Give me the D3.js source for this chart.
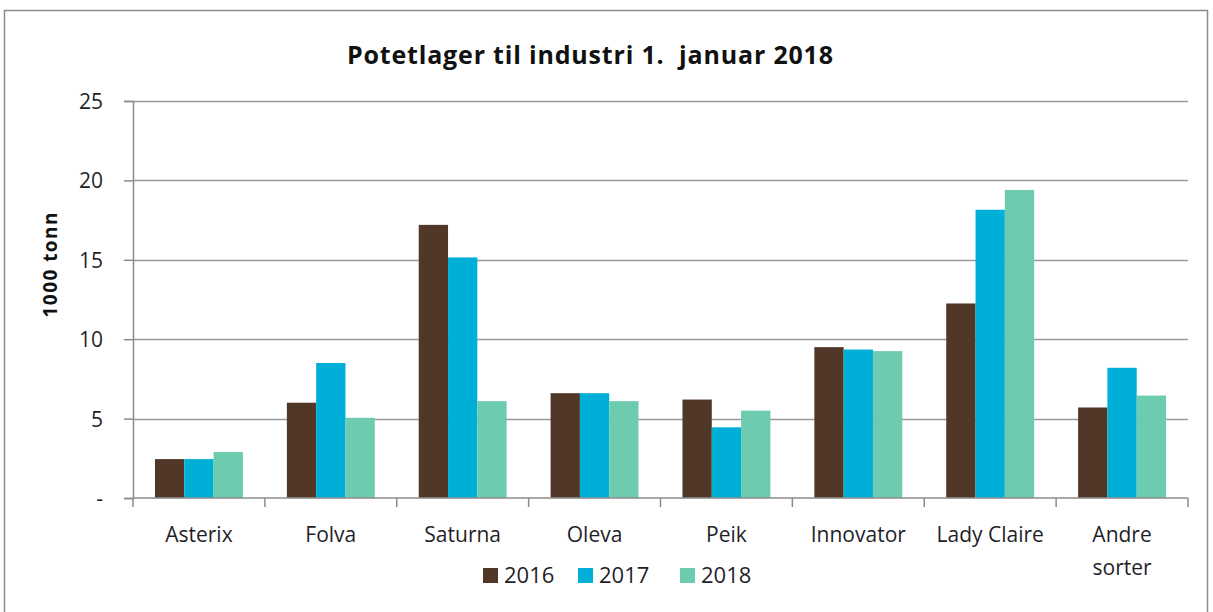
<!DOCTYPE html>
<html>
<head>
<meta charset="utf-8">
<script src="https://cdn.jsdelivr.net/npm/d3@7/dist/d3.min.js"></script>
<style>
  html, body { margin: 0; padding: 0; background: #ffffff; }
  svg { display: block; }
  text { font-family: "Open Sans", Lato, "DejaVu Sans", sans-serif; }
</style>
</head>
<body>
<div id="chart"></div>
<script>
// Potato stock for industry, 1 January (1000 tonnes)
const categories = ['Asterix', 'Folva', 'Saturna', 'Oleva', 'Peik', 'Innovator', 'Lady Claire', 'Andre sorter'];
const years = ['2016', '2017', '2018'];
const values2016 = [2.45, 6.0, 17.2, 6.6, 6.2, 9.5, 12.25, 5.7];
const values2017 = [2.45, 8.5, 15.15, 6.6, 4.45, 9.35, 18.15, 8.2];
const values2018 = [2.9, 5.05, 6.1, 6.1, 5.5, 9.25, 19.4, 6.45];
const yTicks = [0, 5, 10, 15, 20, 25];
const colors = ['#513727', '#00afd7', '#6dcbb0'];

const W = 1213, H = 612;
const margin = { left: 133, right: 1213 - 1188, top: 101, bottom: 612 - 498 };
const textColor = '#1f1f2a';
const axisColor = '#8c8c8c';

const svg = d3.select('#chart').append('svg')
  .attr('width', W)
  .attr('height', H);

// outer frame
svg.append('rect')
  .attr('x', 4.5).attr('y', 10.5)
  .attr('width', 1203).attr('height', 620)
  .attr('fill', '#fff')
  .attr('stroke', axisColor)
  .attr('stroke-width', 1.5);

const x = d3.scaleBand()
  .domain(categories)
  .range([margin.left, W - margin.right]);

const series = d3.scaleBand()
  .domain(years)
  .range([0, x.bandwidth() * 3 / 4.5]);

const y = d3.scaleLinear()
  .domain([0, 25])
  .range([H - margin.bottom, margin.top]);

// gridlines
svg.append('g')
  .selectAll('line')
  .data(yTicks.filter(d => d > 0))
  .join('line')
  .attr('x1', margin.left).attr('x2', W - margin.right)
  .attr('y1', d => Math.round(y(d)) + 0.5)
  .attr('y2', d => Math.round(y(d)) + 0.5)
  .attr('stroke', '#9a9a9a')
  .attr('stroke-width', 1.5);

// bars
const data = [values2016, values2017, values2018];
const groupOffset = (x.bandwidth() - series.range()[1]) / 2;
years.forEach((yr, i) => {
  svg.append('g')
    .selectAll('rect')
    .data(categories)
    .join('rect')
    .attr('x', (c) => x(c) + groupOffset + series(yr))
    .attr('width', series.bandwidth())
    .attr('y', (c, j) => y(data[i][j]))
    .attr('height', (c, j) => y(0) - y(data[i][j]))
    .attr('fill', colors[i]);
});

// y axis
const yAxis = d3.axisLeft(y)
  .tickValues(yTicks)
  .tickSize(9)
  .tickPadding(21)
  .tickFormat(d => d === 0 ? '-' : d);

const gy = svg.append('g')
  .attr('transform', `translate(${margin.left},0)`)
  .call(yAxis);
gy.select('.domain').attr('stroke', axisColor).attr('stroke-width', 1.5);
gy.selectAll('.tick line').attr('stroke', axisColor).attr('stroke-width', 1.5);
gy.selectAll('.tick text')
  .attr('fill', textColor)
  .attr('dy', '0.36em')
  .style('font-size', '21px');

// x axis
const gx = svg.append('g')
  .attr('transform', `translate(0,${y(0)})`);
gx.append('line')
  .attr('x1', margin.left).attr('x2', W - margin.right)
  .attr('stroke', axisColor).attr('stroke-width', 1.5);
gx.selectAll('.xtick')
  .data(categories.concat(['end']))
  .join('line')
  .attr('class', 'xtick')
  .attr('x1', (c, i) => i < categories.length ? x(c) : W - margin.right)
  .attr('x2', (c, i) => i < categories.length ? x(c) : W - margin.right)
  .attr('y1', 0).attr('y2', 9)
  .attr('stroke', axisColor).attr('stroke-width', 1.5);

gx.selectAll('.xlabel')
  .data(categories)
  .join('text')
  .attr('class', 'xlabel')
  .attr('text-anchor', 'middle')
  .attr('fill', textColor)
  .style('font-size', '21px')
  .each(function (c) {
    const words = c === 'Andre sorter' ? ['Andre', 'sorter'] : [c];
    d3.select(this).selectAll('tspan')
      .data(words)
      .join('tspan')
      .attr('x', x(c) + x.bandwidth() / 2)
      .attr('y', (w, k) => 44 + k * 33)
      .text(w => w);
  });

// y axis title
svg.append('text')
  .attr('transform', 'translate(57,265) rotate(-90)')
  .attr('text-anchor', 'middle')
  .attr('fill', '#111')
  .attr('textLength', 105)
  .attr('lengthAdjust', 'spacing')
  .style('font-size', '19px')
  .style('font-weight', 'bold')
  .text('1000 tonn');

// title
svg.append('text')
  .attr('x', 590)
  .attr('y', 64)
  .attr('text-anchor', 'middle')
  .attr('fill', '#111')
  .attr('textLength', 486)
  .attr('lengthAdjust', 'spacing')
  .style('font-size', '25px')
  .style('font-weight', 'bold')
  .style('white-space', 'pre')
  .text('Potetlager til industri 1.  januar 2018');

// legend
const legendX = [483, 578, 680];
const legend = svg.append('g');
years.forEach((yr, i) => {
  legend.append('rect')
    .attr('x', legendX[i]).attr('y', 568)
    .attr('width', 15).attr('height', 15)
    .attr('fill', colors[i]);
  legend.append('text')
    .attr('x', legendX[i] + 21).attr('y', 583)
    .attr('fill', textColor)
    .style('font-size', '22px')
    .text(yr);
});
</script>
</body>
</html>
